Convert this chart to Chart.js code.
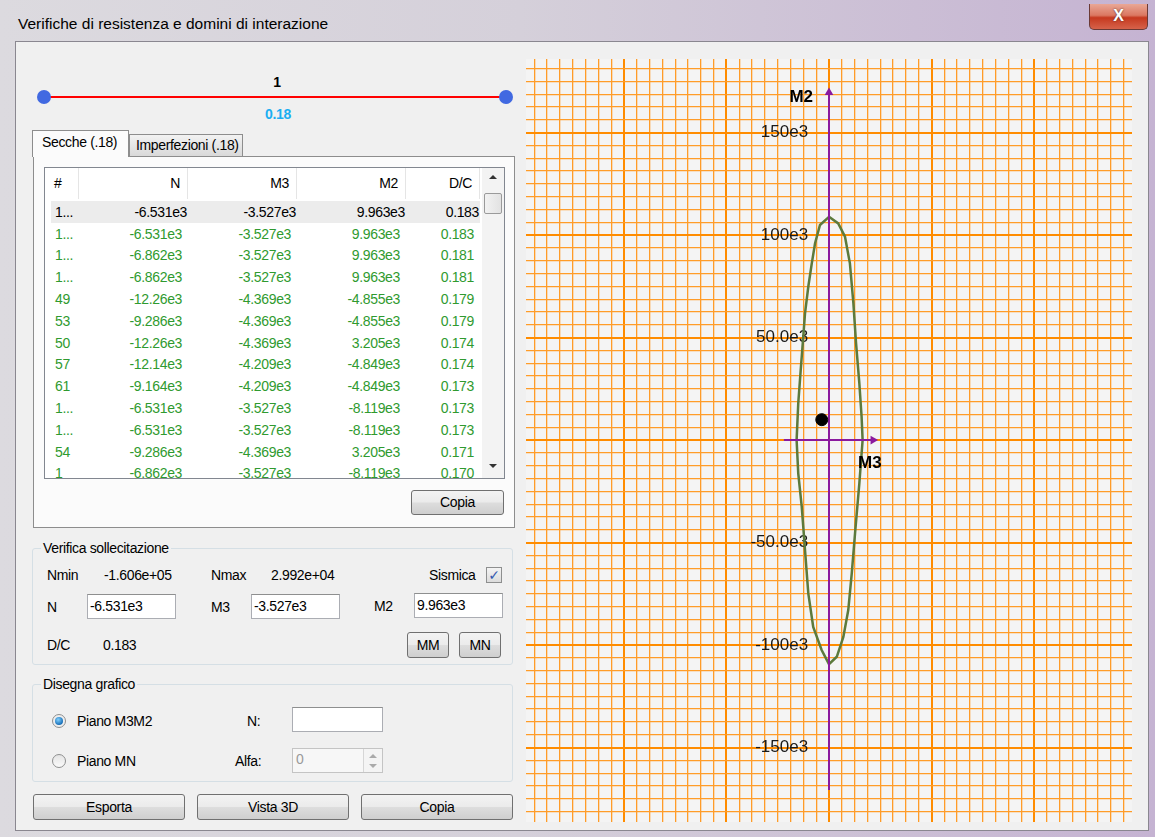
<!DOCTYPE html>
<html>
<head>
<meta charset="utf-8">
<title>Verifiche di resistenza e domini di interazione</title>
<script src="https://cdn.jsdelivr.net/npm/chart.js@4.4.0/dist/chart.umd.min.js"></script>
<style>
body { margin:0; width:1155px; height:837px; overflow:hidden; position:relative;
  font-family:'Liberation Sans', Arial, sans-serif; color:#000;
  background:linear-gradient(to right, #dcdadf 0%, #d5d0da 45%, #c5b3d2 100%); }
.a { position:absolute; box-sizing:border-box; }
.t { position:absolute; white-space:nowrap; font-size:14px; letter-spacing:-0.35px; line-height:16px; }
.btn { position:absolute; box-sizing:border-box; border:1px solid #707070; border-radius:3px;
  background:linear-gradient(#f3f3f3 0%, #ebebeb 48%, #dddddd 52%, #cfcfcf 100%);
  font-size:14px; letter-spacing:-0.35px; text-align:center; }
.box { position:absolute; box-sizing:border-box; background:#fff; border:1px solid #abadb3; border-top-color:#8e8f8f; }
.grp { position:absolute; box-sizing:border-box; border:1px solid #d5dfe5; border-radius:3px; }
.grpT { position:absolute; white-space:nowrap; font-size:14px; letter-spacing:-0.35px; line-height:16px; background:#f0f0f0; padding:0 2px; }
#client { left:15px; top:41px; width:1134px; height:790px; background:#f0f0f0; border:1px solid #8a8790; }
#chartBox { left:526px; top:59px; width:606px; height:763px; background:#f4f4f4; }
#lv { left:44px; top:167px; width:461px; height:312px; background:#fff; border:1px solid #828790; overflow:hidden; }
.hd { position:absolute; top:0; height:31px; line-height:31px; font-size:14px; letter-spacing:-0.35px; border-right:1px solid #e5e5e5; box-sizing:border-box; padding:0 7px; text-align:right; }
.row { position:absolute; left:0; width:436px; height:22px; }
.cell { position:absolute; top:0; height:22px; line-height:22px; font-size:14px; letter-spacing:-0.35px; text-align:right; white-space:nowrap; }
</style>
</head>
<body>
<!-- title bar -->
<div class="t" style="left:18px;top:15px;font-size:15.5px;letter-spacing:0px;line-height:18px">Verifiche di resistenza e domini di interazione</div>
<div class="a" style="left:1089px;top:4px;width:59px;height:26px;border:1px solid #6b3a35;border-top:none;border-radius:0 0 5px 5px;background:linear-gradient(#e9a796 0%, #db7862 45%, #c6391f 55%, #d6624a 100%);color:#fff;font:bold 16px 'Liberation Sans';text-align:center;line-height:24px;text-shadow:0 0 2px #4a2a2a">X</div>

<div class="a" id="client"></div>

<!-- slider -->
<div class="t" style="left:257px;top:74px;width:40px;text-align:center;font-weight:bold;font-size:14px">1</div>
<div class="a" style="left:44px;top:96px;width:462px;height:2px;background:#f00"></div>
<div class="a" style="left:37px;top:90px;width:14px;height:14px;border-radius:50%;background:#4169e1"></div>
<div class="a" style="left:499px;top:90px;width:14px;height:14px;border-radius:50%;background:#4169e1"></div>
<div class="t" style="left:253px;top:106px;width:50px;text-align:center;font-weight:bold;font-size:14px;color:#1aaef2">0.18</div>

<!-- tabs -->
<div class="a" style="left:33px;top:156px;width:482px;height:372px;border:1px solid #8d8d8d;background:#fbfbfb"></div>
<div class="a" style="left:129px;top:134px;width:114px;height:23px;border:1px solid #8d8d8d;background:linear-gradient(#f2f2f2,#d9d9d9)"></div>
<div class="t" style="left:136px;top:137px">Imperfezioni (.18)</div>
<div class="a" style="left:32px;top:130px;width:97px;height:27px;border:1px solid #8d8d8d;border-bottom:none;background:#fbfbfb"></div>
<div class="t" style="left:42px;top:134px">Secche (.18)</div>

<!-- list -->
<div class="a" id="lv">
  <div class="hd" style="left:0;width:34px;text-align:left;padding-left:9px">#</div>
  <div class="hd" style="left:34px;width:109px">N</div>
  <div class="hd" style="left:143px;width:109px">M3</div>
  <div class="hd" style="left:252px;width:109px">M2</div>
  <div class="hd" style="left:361px;width:74px">D/C</div>
  <div id="rows"></div>
  <div class="a" style="left:437px;top:0;width:22px;height:310px;background:#f3f3f3"></div>
  <div class="a" style="left:441px;top:7px;width:0;height:0;border-left:4px solid transparent;border-right:4px solid transparent;border-bottom:4px solid #333;margin-left:3px"></div>
  <div class="a" style="left:439px;top:25px;width:18px;height:21px;border:1px solid #9a9a9a;border-radius:2px;background:linear-gradient(to right,#f2f2f2,#e2e2e2)"></div>
  <div class="a" style="left:441px;top:296px;width:0;height:0;border-left:4px solid transparent;border-right:4px solid transparent;border-top:4px solid #333;margin-left:3px"></div>
</div>
<div class="btn" style="left:411px;top:490px;width:93px;height:25px;line-height:23px">Copia</div>

<!-- Verifica sollecitazione -->
<div class="grp" style="left:32px;top:548px;width:481px;height:117px"></div>
<div class="grpT" style="left:41px;top:540px">Verifica sollecitazione</div>
<div class="t" style="left:47px;top:567px">Nmin</div>
<div class="t" style="left:104px;top:567px">-1.606e+05</div>
<div class="t" style="left:211px;top:567px">Nmax</div>
<div class="t" style="left:271px;top:567px">2.992e+04</div>
<div class="t" style="left:429px;top:567px">Sismica</div>
<div class="a" style="left:486px;top:567px;width:16px;height:16px;border:1px solid #8e8f8f;background:linear-gradient(#f4f4f4,#dcdcdc);font:bold 14px 'DejaVu Sans';color:#3659b0;text-align:center;line-height:14px">✓</div>
<div class="t" style="left:47px;top:599px">N</div>
<div class="box" style="left:87px;top:594px;width:89px;height:25px"></div>
<div class="t" style="left:90px;top:598px">-6.531e3</div>
<div class="t" style="left:211px;top:599px">M3</div>
<div class="box" style="left:251px;top:594px;width:89px;height:25px"></div>
<div class="t" style="left:254px;top:598px">-3.527e3</div>
<div class="t" style="left:374px;top:598px">M2</div>
<div class="box" style="left:414px;top:593px;width:89px;height:25px"></div>
<div class="t" style="left:417px;top:597px">9.963e3</div>
<div class="t" style="left:47px;top:637px">D/C</div>
<div class="t" style="left:103px;top:637px">0.183</div>
<div class="btn" style="left:407px;top:632px;width:42px;height:26px;line-height:24px">MM</div>
<div class="btn" style="left:459px;top:632px;width:42px;height:26px;line-height:24px">MN</div>

<!-- Disegna grafico -->
<div class="grp" style="left:32px;top:684px;width:481px;height:98px"></div>
<div class="grpT" style="left:41px;top:676px">Disegna grafico</div>
<div class="a" style="left:52px;top:714px;width:14px;height:14px;border-radius:50%;border:1px solid #8e8f8f;background:#eee"></div>
<div class="a" style="left:55px;top:717px;width:8px;height:8px;border-radius:50%;background:radial-gradient(circle at 40% 35%, #7fd0ff, #1a70b8 70%)"></div>
<div class="t" style="left:77px;top:713px">Piano M3M2</div>
<div class="t" style="left:247px;top:713px">N:</div>
<div class="box" style="left:292px;top:707px;width:91px;height:25px"></div>
<div class="a" style="left:52px;top:754px;width:14px;height:14px;border-radius:50%;border:1px solid #8e8f8f;background:linear-gradient(#e4e4e4,#fafafa)"></div>
<div class="t" style="left:77px;top:753px">Piano MN</div>
<div class="t" style="left:235px;top:753px">Alfa:</div>
<div class="box" style="left:292px;top:748px;width:91px;height:25px;background:#f7f7f7;border-color:#c4c4c4"></div>
<div class="t" style="left:296px;top:751px;color:#9a9a9a">0</div>
<div class="a" style="left:363px;top:749px;width:19px;height:23px;border-left:1px solid #d6d6d6;background:#f4f4f4"></div>
<div class="a" style="left:369px;top:754px;width:0;height:0;border-left:4px solid transparent;border-right:4px solid transparent;border-bottom:4px solid #aaa"></div>
<div class="a" style="left:369px;top:764px;width:0;height:0;border-left:4px solid transparent;border-right:4px solid transparent;border-top:4px solid #aaa"></div>

<!-- bottom buttons -->
<div class="btn" style="left:33px;top:794px;width:152px;height:26px;line-height:24px">Esporta</div>
<div class="btn" style="left:197px;top:794px;width:152px;height:26px;line-height:24px">Vista 3D</div>
<div class="btn" style="left:361px;top:794px;width:152px;height:26px;line-height:24px">Copia</div>

<!-- chart -->
<div class="a" id="chartBox"><canvas id="chart" width="606" height="763"></canvas></div>

<script>
// list of sections
let rowIds = ['1...', '1...', '1...', '1...', '49', '53', '50', '57', '61', '1...', '1...', '54', '1']
let rowN = ['-6.531e3', '-6.531e3', '-6.862e3', '-6.862e3', '-12.26e3', '-9.286e3', '-12.26e3', '-12.14e3', '-9.164e3', '-6.531e3', '-6.531e3', '-9.286e3', '-6.862e3']
let rowM3 = ['-3.527e3', '-3.527e3', '-3.527e3', '-3.527e3', '-4.369e3', '-4.369e3', '-4.369e3', '-4.209e3', '-4.209e3', '-3.527e3', '-3.527e3', '-4.369e3', '-3.527e3']
let rowM2 = ['9.963e3', '9.963e3', '9.963e3', '9.963e3', '-4.855e3', '-4.855e3', '3.205e3', '-4.849e3', '-4.849e3', '-8.119e3', '-8.119e3', '3.205e3', '-8.119e3']
let rowDC = ['0.183', '0.183', '0.181', '0.181', '0.179', '0.179', '0.174', '0.174', '0.173', '0.173', '0.173', '0.171', '0.170']

// interaction domain M3-M2 (N = -6.531e3)
let domainM3 = [0, -4.4e3, -6.8e3, -8.4e3, -10.1e3, -11.7e3, -12.8e3, -13.8e3, -15.0e3, -15.8e3, -15.0e3, -13.3e3, -11.7e3, -10.1e3, -7.7e3, -3.6e3, 0, 3.8e3, 7.0e3, 9.4e3, 11.1e3, 12.7e3, 14.8e3, 16.4e3, 15.9e3, 14.8e3, 13.2e3, 11.9e3, 10.2e3, 7.8e3, 4.5e3, 0]
let domainM2 = [108.9e3, 104.9e3, 96.0e3, 86.2e3, 74.8e3, 61.8e3, 47.2e3, 34.1e3, 17.9e3, 0, -16.2e3, -32.5e3, -53.7e3, -74.8e3, -91.1e3, -102.4e3, -109.3e3, -105.7e3, -96.0e3, -82.9e3, -65.0e3, -45.5e3, -21.1e3, 0, 11.4e3, 27.7e3, 47.2e3, 66.7e3, 86.2e3, 99.2e3, 105.7e3, 108.9e3]

// acting moments
let demandM3 = [-3.527e3]
let demandM2 = [9.963e3]

// axes
let m2AxisEnds = [-170.7e3, 169.5e3]
let m3AxisEnds = [-22.0e3, 21.5e3]
let m2TickValues = [150e3, 100e3, 50e3, -50e3, -100e3, -150e3]
let m2TickLabels = ['150e3', '100e3', '50.0e3', '-50.0e3', '-100e3', '-150e3']

let m3Range = [-147.8e3, 147.8e3]
let m2Range = [-186.3e3, 185.9e3]
let gridStep = 6250
let majorEvery = 8

let purple = '#8b1a9e'
let majorColor = '#ff8c00'
let minorColor = '#ff9c28'

// fill the list
let rowsDiv = document.getElementById('rows');
for (var i = 0; i < rowIds.length; i++) {
    let top = 32.8 + i * 21.8;
    let color = i === 0 ? '#000' : '#2f9a2f';
    let bg = i === 0 ? 'background:#ececec;left:6px;width:429px;' : '';
    rowsDiv.innerHTML += '<div class="row" style="top:' + top + 'px;' + bg + 'color:' + color + '">' +
        '<div class="cell" style="left:' + (i === 0 ? 4 : 10) + 'px;text-align:left">' + rowIds[i] + '</div>' +
        '<div class="cell" style="right:' + (i === 0 ? 293 : 299) + 'px">' + rowN[i] + '</div>' +
        '<div class="cell" style="right:' + (i === 0 ? 184 : 190) + 'px">' + rowM3[i] + '</div>' +
        '<div class="cell" style="right:' + (i === 0 ? 75 : 81) + 'px">' + rowM2[i] + '</div>' +
        '<div class="cell" style="right:' + (i === 0 ? 1 : 7) + 'px">' + rowDC[i] + '</div></div>';
}

function toPoints(xs, ys) {
    return xs.map((x, i) => ({x: x, y: ys[i]}));
}

function isMajor(ctx) {
    return Math.round(ctx.tick.value / gridStep) % majorEvery === 0;
}

function gridTicks(scale) {
    let ticks = [];
    for (let k = Math.ceil(scale.min / gridStep); k * gridStep <= scale.max; k++) {
        ticks.push({value: k * gridStep});
    }
    scale.ticks = ticks;
}

let gridScale = (range) => ({
    type: 'linear',
    min: range[0],
    max: range[1],
    afterBuildTicks: gridTicks,
    ticks: {display: false},
    border: {display: false},
    grid: {
        drawTicks: false,
        color: ctx => isMajor(ctx) ? majorColor : minorColor,
        lineWidth: ctx => isMajor(ctx) ? 2 : 1.3
    }
});

// axis names next to the arrows
let axisNames = {
    id: 'axisNames',
    afterDatasetsDraw(chart) {
        let c = chart.ctx, xs = chart.scales.x, ys = chart.scales.y;
        c.save();
        c.font = 'bold 17px "Liberation Sans", Arial, sans-serif';
        c.fillStyle = '#000';
        c.textBaseline = 'middle';
        c.textAlign = 'right';
        c.fillText('M2', xs.getPixelForValue(0) - 16, ys.getPixelForValue(m2AxisEnds[1]) + 5);
        c.textAlign = 'left';
        c.fillText('M3', xs.getPixelForValue(m3AxisEnds[1]) - 15, ys.getPixelForValue(0) + 23);
        c.restore();
    }
};

let ctx = document.getElementById('chart').getContext('2d');
let chart = new Chart(ctx, {
    type: 'scatter',
    data: {
        datasets: [{
            label: 'Sollecitazione',
            data: toPoints(demandM3, demandM2),
            backgroundColor: '#000',
            borderColor: '#000',
            pointRadius: 6,
            order: 0
        }, {
            label: 'M2',
            data: toPoints([0, 0], m2AxisEnds),
            showLine: true,
            borderColor: purple,
            backgroundColor: purple,
            borderWidth: 2,
            pointStyle: 'triangle',
            pointRadius: [0, 5],
            pointBorderWidth: 0,
            order: 1
        }, {
            label: 'M3',
            data: toPoints(m3AxisEnds, [0, 0]),
            showLine: true,
            borderColor: purple,
            backgroundColor: purple,
            borderWidth: 2,
            pointStyle: 'triangle',
            rotation: 90,
            pointRadius: [0, 5],
            pointBorderWidth: 0,
            order: 1
        }, {
            label: 'Dominio',
            data: toPoints(domainM3, domainM2),
            showLine: true,
            borderColor: '#5c7a3c',
            borderWidth: 2.5,
            pointRadius: 0,
            tension: 0,
            order: 2
        }]
    },
    options: {
        responsive: false,
        devicePixelRatio: 1,
        animation: false,
        events: [],
        layout: {padding: 0, autoPadding: false},
        plugins: {legend: {display: false}, tooltip: {enabled: false}},
        scales: {
            x: gridScale(m3Range),
            y: gridScale(m2Range),
            yLab: {
                type: 'linear',
                axis: 'y',
                position: {x: -10.2e3},
                min: m2Range[0],
                max: m2Range[1],
                afterBuildTicks: scale => { scale.ticks = m2TickValues.map(v => ({value: v})); },
                // labels sit inside the plot, they need no room at the edges
                afterFit: scale => { scale.paddingTop = 0; scale.paddingBottom = 0; },
                grid: {display: false, drawTicks: false},
                border: {display: false},
                ticks: {
                    autoSkip: false,
                    padding: 0,
                    color: '#1a1a1a',
                    font: {family: '"Liberation Sans", Arial, sans-serif', size: 17},
                    callback: v => m2TickLabels[m2TickValues.indexOf(v)]
                }
            }
        }
    },
    plugins: [axisNames]
});
</script>
</body>
</html>
